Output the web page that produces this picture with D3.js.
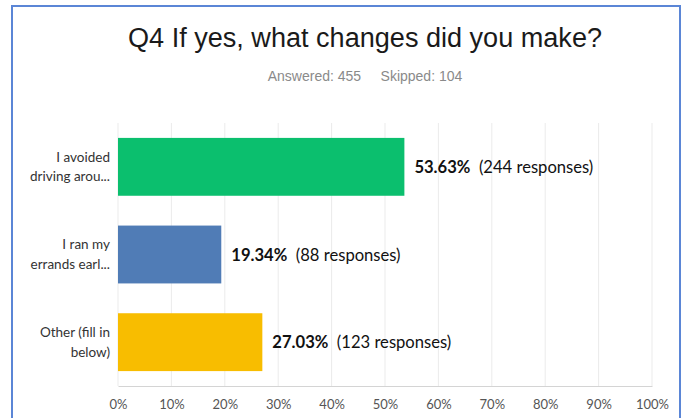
<!DOCTYPE html>
<html><head><meta charset="utf-8">
<script src="https://cdn.jsdelivr.net/npm/d3@7"></script>
<style>html,body{margin:0;padding:0;background:#fff;}svg{display:block;}</style>
</head><body>
<svg id="c" width="682" height="418"></svg>
<script>
const categories = [["I avoided", "driving arou..."], ["I ran my", "errands earl..."], ["Other (fill in", "below)"]];
const percents = [53.63, 19.34, 27.03];
const responses = [244, 88, 123];
const colors = ["#0bbf6e", "#507cb6", "#f8bd00"];
const tickValues = [0, 10, 20, 30, 40, 50, 60, 70, 80, 90, 100];
const titleText = "Q4 If yes, what changes did you make?";
const answered = 455, skipped = 104;

const svg = d3.select("#c");
// frame
svg.append("rect").attr("x", 12).attr("y", 6).attr("width", 668).attr("height", 420)
  .attr("fill", "#fff").attr("stroke", "#5b86d6").attr("stroke-width", 2);

svg.append("text").attr("x", 365).attr("y", 47).attr("text-anchor", "middle")
  .attr("font-family", "Liberation Sans, Arial, sans-serif").attr("font-size", 27).attr("fill", "#1a1a1a")
  .attr("textLength", 474).attr("lengthAdjust", "spacingAndGlyphs")
  .text(titleText);
svg.append("text").attr("x", 365).attr("y", 81).attr("text-anchor", "middle")
  .attr("font-family", "Liberation Sans, Arial, sans-serif").attr("font-size", 14).attr("fill", "#8a8a8a")
  .attr("xml:space", "preserve")
  .text("Answered: " + answered + "     Skipped: " + skipped);

const x = d3.scaleLinear().domain([0, 100]).range([118, 652]);
const y = d3.scaleBand().domain(d3.range(categories.length)).range([123, 386]).paddingInner(0.34).paddingOuter(0.17);

// gridlines
svg.append("g").selectAll("line").data(tickValues).join("line")
  .attr("x1", d => x(d)).attr("x2", d => x(d)).attr("y1", 123).attr("y2", 386)
  .attr("stroke", "#ebebeb").attr("stroke-width", 1);

// bottom axis
const ax = svg.append("g").attr("transform", "translate(0,386)")
  .call(d3.axisBottom(x).tickValues(tickValues).tickFormat(d => d + "%").tickSize(0).tickPadding(14));
ax.select(".domain").attr("stroke", "#d4d4d4");
ax.selectAll("text").attr("font-family", "Lato, Open Sans, sans-serif").attr("font-size", 13).attr("fill", "#555");

// bars
svg.append("g").selectAll("rect").data(percents).join("rect")
  .attr("x", x(0)).attr("y", (d, i) => y(i)).attr("width", d => x(d) - x(0)).attr("height", y.bandwidth())
  .attr("fill", (d, i) => colors[i]);

// category labels
const cl = svg.append("g").selectAll("text").data(categories).join("text")
  .attr("x", 110).attr("y", (d, i) => y(i) + y.bandwidth() / 2 - 3)
  .attr("text-anchor", "end").attr("font-family", "Lato, Open Sans, sans-serif").attr("font-size", 13.5).attr("fill", "#333");
cl.each(function(d) {
  const t = d3.select(this);
  d.forEach((line, k) => t.append("tspan").attr("x", 110).attr("dy", k === 0 ? "-0.15em" : "1.45em").text(line));
});

// value labels
const vl = svg.append("g").selectAll("text").data(percents).join("text")
  .attr("x", d => x(d) + 10).attr("y", (d, i) => y(i) + y.bandwidth() / 2 + 6)
  .attr("font-family", "Lato, Carlito, sans-serif").attr("font-size", 16.6).attr("fill", "#111")
  .attr("xml:space", "preserve");
vl.append("tspan").attr("font-weight", "bold").text(d => d.toFixed(2) + "%");
vl.append("tspan").text((d, i) => "  (" + responses[i] + " responses)");
</script>
</body></html>
